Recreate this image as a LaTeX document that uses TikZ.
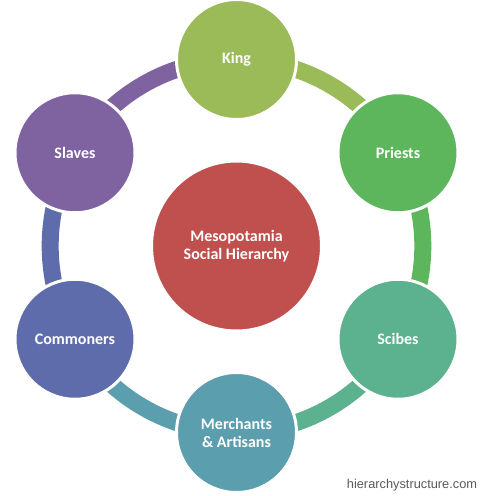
\documentclass[tikz,border=0pt]{standalone}
\usepackage{fontspec}
\setmainfont{Carlito}
\newfontfamily\webfont{Liberation Sans}
\usetikzlibrary{backgrounds}
\definecolor{kingc}{HTML}{9BBB59}
\definecolor{priestc}{HTML}{5EB65C}
\definecolor{scibec}{HTML}{5CB18F}
\definecolor{merchc}{HTML}{5B9EAD}
\definecolor{commc}{HTML}{5F6CAB}
\definecolor{slavec}{HTML}{7F63A1}
\definecolor{hubc}{HTML}{C0504D}
\tikzset{
  class/.style={circle,draw=white,line width=3pt,minimum size=120pt,inner sep=0pt,
    text=white,align=center,font=\bfseries\fontsize{16}{18}\selectfont},
  hub/.style={class,minimum size=170pt},
  link/.style={line width=17pt,bend left=30,looseness=0.91}
}

\begin{document}
\begin{tikzpicture}[x=1pt,y=1pt]
        \useasboundingbox (0,0) rectangle (480,496);
        \node[hub,fill=hubc] (hub) at (236.5,250) {Mesopotamia\\Social Hierarchy};
        \node[class,fill=kingc] (king) at (236.5,436.5) {King};
        \node[class,fill=priestc] (priests) at (398,343.25) {Priests};
        \node[class,fill=scibec] (scibes) at (398,156.75) {Scibes};
        \node[class,fill=merchc] (merchants) at (236.5,63.5) {Merchants\\\& Artisans};
        \node[class,fill=commc] (commoners) at (75,156.75) {Commoners};
        \node[class,fill=slavec] (slaves) at (75,343.25) {Slaves};
        \node[text=black!65,font=\webfont\fontsize{12.8}{14}\selectfont] (site) at (412,11) {hierarchystructure.com};
        \begin{pgfonlayer}{background}
        \draw[link,kingc] (king.center) to (priests.center);
        \draw[link,priestc] (priests.center) to (scibes.center);
        \draw[link,scibec] (scibes.center) to (merchants.center);
        \draw[link,merchc] (merchants.center) to (commoners.center);
        \draw[link,commc] (commoners.center) to (slaves.center);
        \draw[link,slavec] (slaves.center) to (king.center);
        \end{pgfonlayer}
    \end{tikzpicture}
\end{document}
